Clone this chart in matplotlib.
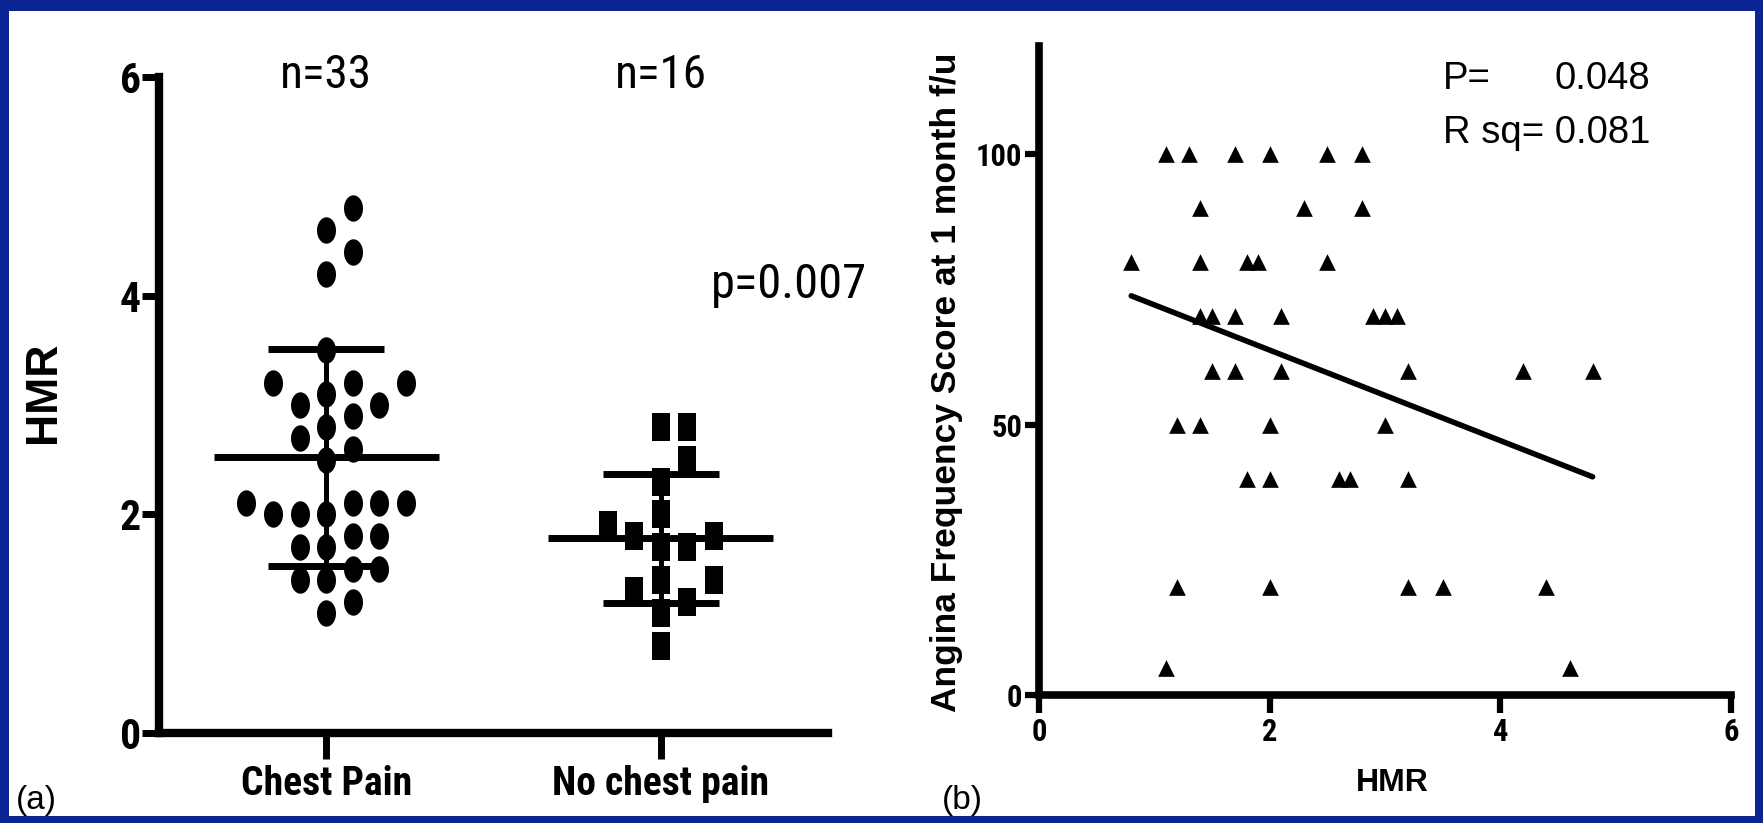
import numpy as np
import matplotlib
matplotlib.use("Agg")
import matplotlib.pyplot as plt
from matplotlib.path import Path
from matplotlib.patches import Rectangle

NARROW = ["Roboto Condensed", "DejaVu Sans"]
ARIAL = ["Liberation Sans", "DejaVu Sans"]
COND = dict(family=NARROW, fontstretch="condensed")

# (a) HMR by chest pain group
groups = ["Chest Pain", "No chest pain"]
n_labels = ["n=33", "n=16"]
hmr_pain = [4.8, 4.6, 4.4, 4.2, 3.5, 3.2, 3.2, 3.2, 3.1, 3.0, 3.0, 2.9, 2.8,
            2.7, 2.6, 2.5, 2.1, 2.1, 2.1, 2.1, 2.0, 2.0, 2.0, 1.8, 1.8, 1.7,
            1.7, 1.5, 1.5, 1.4, 1.4, 1.2, 1.1]
hmr_no_pain = [2.8, 2.8, 2.5, 2.3, 2.0, 1.9, 1.8, 1.8, 1.7, 1.7, 1.4, 1.4,
               1.3, 1.2, 1.1, 0.8]
p_label = "p=0.007"

# (b) angina frequency score vs HMR
hmr_b = [1.1, 1.3, 1.7, 2.0, 2.5, 2.8,
         1.4, 2.3, 2.8,
         0.8, 1.4, 1.8, 1.9, 2.5,
         1.4, 1.5, 1.7, 2.1, 2.9, 3.0, 3.1,
         1.5, 1.7, 2.1, 3.2, 4.2, 4.8,
         1.2, 1.4, 2.0, 3.0,
         1.8, 2.0, 2.6, 2.7, 3.2,
         1.2, 2.0, 3.2, 3.5, 4.4,
         1.1, 4.6]
angina = [100, 100, 100, 100, 100, 100,
          90, 90, 90,
          80, 80, 80, 80, 80,
          70, 70, 70, 70, 70, 70, 70,
          60, 60, 60, 60, 60, 60,
          50, 50, 50, 50,
          40, 40, 40, 40, 40,
          20, 20, 20, 20, 20,
          5, 5]
p_value = "0.048"
r_sq = "0.081"

W, H = 1763, 823
fig = plt.figure(figsize=(W / 100, H / 100), dpi=100, facecolor="#0b2494")
fig.patches.append(Rectangle((9 / W, 7 / H), (1755 - 9) / W, 805 / H,
                             transform=fig.transFigure, facecolor="white",
                             edgecolor="none", zorder=-10))

# marker shapes (the original panel is squeezed sideways)
t = np.linspace(0, 2 * np.pi, 60)
dot = Path(np.column_stack([0.36 * np.cos(t), 0.5 * np.sin(t)]))
box = Path([(-0.32, -0.5), (0.32, -0.5), (0.32, 0.5), (-0.32, 0.5), (-0.32, -0.5)],
           closed=True)


def swarm(vals, w_px, h_px, x_ppu, y_ppu, step_px):
    # greedy beeswarm: nearest free slot to the centre line
    placed, offs = [], []
    cands = [0]
    for i in range(1, 30):
        cands += [i, -i]
    for v in vals:
        y = v * y_ppu
        for c in cands:
            x = c * step_px
            if all(((x - px) / w_px) ** 2 + ((y - py) / h_px) ** 2 >= 1 for px, py in placed):
                break
        placed.append((x, y))
        offs.append(x / x_ppu)
    return np.array(offs)


# ---------------- panel (a)
axa = fig.add_axes([159 / W, (H - 733) / H, 669 / W, 656 / H], facecolor="none")
axa.set_xlim(-0.5, 1.5)
axa.set_ylim(0, 6)
x_ppu = 669 / 2.0
y_ppu = 656 / 6.0

for i, (vals, mk, ms, gap) in enumerate([(hmr_pain, dot, 19, 26), (hmr_no_pain, box, 20, 24)]):
    vals = np.array(vals)
    order = np.argsort(vals)
    offs = np.zeros(len(vals))
    offs[order] = swarm(vals[order], gap, 29, x_ppu, y_ppu, 13.3)
    axa.scatter(i + offs, vals, s=ms ** 2, marker=mk, c="black", linewidths=0,
                clip_on=False, zorder=3)
    m, sd = vals.mean(), vals.std(ddof=1)
    axa.hlines(m, i - 0.337, i + 0.337, color="black", lw=5, zorder=4)
    axa.hlines([m - sd, m + sd], i - 0.173, i + 0.173, color="black", lw=5, zorder=4)
    axa.vlines(i, m - sd, m + sd, color="black", lw=3.6, zorder=4)
    axa.text(i, 5.9, n_labels[i], ha="center", va="baseline", fontsize=34, **COND)

axa.text(1.617, 3.98, p_label, ha="right", va="baseline", fontsize=35, **COND)

for s in ["top", "right"]:
    axa.spines[s].set_visible(False)
for s in ["left", "bottom"]:
    axa.spines[s].set_linewidth(6)
axa.set_xticks([0, 1])
axa.set_xticklabels(groups, fontweight="bold", fontsize=28.5, **COND)
axa.set_yticks([0, 2, 4, 6])
axa.set_yticklabels(["0", "2", "4", "6"], fontweight="bold", fontsize=30, **COND)
axa.tick_params(axis="y", length=12, width=5, pad=1)
axa.tick_params(axis="x", length=19, width=5, pad=4)
axa.set_ylabel("HMR", family=ARIAL, fontweight="bold", fontsize=32)
axa.yaxis.set_label_coords(-0.142, 0.52)

# ---------------- panel (b)
axb = fig.add_axes([1039 / W, (H - 695) / H, 692 / W, 649 / H], facecolor="none")
axb.set_xlim(0, 6)
axb.set_ylim(0, 120)
axb.scatter(hmr_b, angina, s=12 ** 2, marker="^", c="black", linewidths=0,
            clip_on=False, zorder=3)
slope, icpt = np.polyfit(hmr_b, angina, 1)
xs = np.array([min(hmr_b), max(hmr_b)])
axb.plot(xs, icpt + slope * xs, color="black", lw=4, solid_capstyle="round")

axb.text(3.5, 112, "P=", ha="left", va="baseline", fontsize=27.5, family=ARIAL)
axb.text(5.3, 112, p_value, ha="right", va="baseline", fontsize=27.5, family=ARIAL)
axb.text(3.5, 102, "R sq= " + r_sq, ha="left", va="baseline", fontsize=27.5, family=ARIAL)

for s in ["top", "right"]:
    axb.spines[s].set_visible(False)
for s in ["left", "bottom"]:
    axb.spines[s].set_linewidth(5.5)
axb.set_xticks([0, 2, 4, 6])
axb.set_xticklabels(["0", "2", "4", "6"], fontweight="bold", fontsize=22, **COND)
axb.set_yticks([0, 50, 100])
axb.set_yticklabels(["0", "50", "100"], fontweight="bold", fontsize=22, **COND)
axb.tick_params(axis="y", length=10, width=4.5, pad=2)
axb.tick_params(axis="x", length=13, width=4.5, pad=3)
axb.set_xlabel("HMR", family=ARIAL, fontweight="bold", fontsize=23)
axb.xaxis.set_label_coords(0.51, -0.112)
axb.set_ylabel("Angina Frequency Score at 1 month f/u", family=ARIAL,
               fontweight="bold", fontsize=25.5)
axb.yaxis.set_label_coords(-0.110, 0.482)

fig.text(16 / W, (H - 800) / H, "(a)", ha="left", va="center", fontsize=24, family=ARIAL)
fig.text(942 / W, (H - 800) / H, "(b)", ha="left", va="center", fontsize=24, family=ARIAL)

fig.savefig("out.png", dpi=100, facecolor=fig.get_facecolor())
